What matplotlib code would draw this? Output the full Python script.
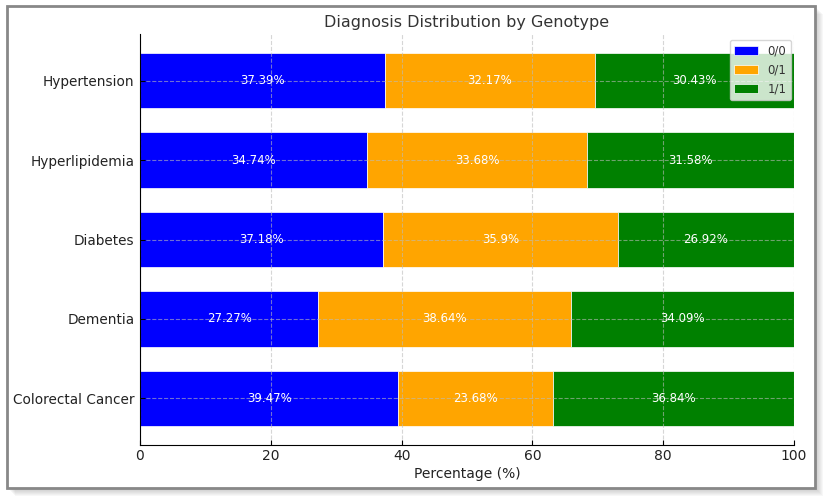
import matplotlib
matplotlib.use("Agg")
import matplotlib.pyplot as plt
from matplotlib.patches import Rectangle
import numpy as np

categories = ['Colorectal Cancer', 'Dementia', 'Diabetes', 'Hyperlipidemia', 'Hypertension']
genotypes = ['0/0', '0/1', '1/1']
g00 = [39.47, 27.27, 37.18, 34.74, 37.39]
g01 = [23.68, 38.64, 35.9, 33.68, 32.17]
g11 = [36.84, 34.09, 26.92, 31.58, 30.43]
colors = ['blue', 'orange', 'green']

W, H = 831, 504
fig = plt.figure(figsize=(W / 100, H / 100), dpi=100)
fig.patch.set_facecolor('white')

# Frame with soft shadow
x0, y0, x1, y1 = 7, 6, 815, 488
for i in range(8, 0, -1):
    fig.patches.append(Rectangle(((x0 + i) / W, 1 - (y1 + i) / H), (x1 - x0) / W, (y1 - y0) / H,
                                 transform=fig.transFigure, facecolor='gray',
                                 edgecolor='none', alpha=0.06, zorder=-10))
fig.patches.append(Rectangle((x0 / W, 1 - y1 / H), (x1 - x0) / W, (y1 - y0) / H,
                             transform=fig.transFigure, facecolor='white',
                             edgecolor='#888888', linewidth=2, zorder=-9))

ax = fig.add_axes([140 / W, 1 - 445 / H, (794 - 140) / W, (445 - 34) / H])
ax.set_facecolor('none')

y = np.arange(len(categories))
left = np.zeros(len(categories))
for name, vals, c in zip(genotypes, [g00, g01, g11], colors):
    vals = np.array(vals)
    ax.barh(y, vals, left=left, height=0.7, color=c, label=name,
            edgecolor='white', linewidth=0.5)
    for yi, (l, v) in enumerate(zip(left, vals)):
        ax.text(l + v / 2, yi, f"{v}%", ha='center', va='center', color='white', fontsize=8.5)
    left = left + vals

ax.set_yticks(y)
ax.set_yticklabels(categories, fontsize=9.8, color='#222222')
ax.set_xlim(0, 100)
ax.tick_params(axis='both', direction='in', length=3.5, width=0.8)
ax.tick_params(axis='x', labelsize=10, labelcolor='#222222', pad=3)
ax.tick_params(axis='y', pad=4)
ax.set_xlabel('Percentage (%)', fontsize=10, color='#222222', labelpad=3)
ax.set_title('Diagnosis Distribution by Genotype', fontsize=11.5, color='#333333', pad=5)
ax.spines['top'].set_visible(False)
ax.spines['right'].set_visible(False)
for s in ('left', 'bottom'):
    ax.spines[s].set_zorder(4)
ax.set_axisbelow(False)
ax.grid(True, linestyle='--', alpha=0.6, color='#bbbbbb', linewidth=0.8)
leg = ax.legend(loc='upper right', fontsize=8.5, framealpha=0.8,
                bbox_to_anchor=(1 - 3 / 654, 1 - 6 / 411), borderaxespad=0)
for t in leg.get_texts():
    t.set_color('#333333')

fig.savefig('out.png', dpi=100)
